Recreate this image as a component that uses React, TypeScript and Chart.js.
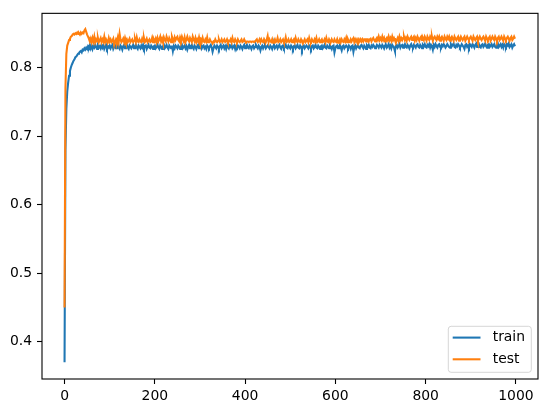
import { useEffect, useRef } from 'react';
import { Chart, registerables } from 'chart.js';

Chart.register(...registerables);

// Epochs are sampled every EPOCH_STEP (0, 2, 4, ... 998)
const EPOCH_STEP = 2;

const TRAIN: number[] = [
  0.370, 0.680, 0.740, 0.765, 0.778, 0.788, 0.795, 0.800, 0.804, 0.807, 0.810, 0.812, 0.815, 0.816, 0.818, 0.820, 0.821, 0.823, 0.824, 0.822, 0.826, 0.825, 0.828, 0.826, 0.829,
  0.827, 0.831, 0.829, 0.833, 0.828, 0.832, 0.827, 0.831, 0.829, 0.833, 0.830, 0.827, 0.832, 0.829, 0.831, 0.828, 0.833, 0.829, 0.832, 0.827, 0.830, 0.833, 0.828, 0.831, 0.829,
  0.832, 0.828, 0.831, 0.833, 0.827, 0.830, 0.832, 0.828, 0.831, 0.833, 0.829, 0.827, 0.832, 0.830, 0.826, 0.831, 0.833, 0.828, 0.830, 0.833, 0.829, 0.827, 0.832, 0.830, 0.828,
  0.831, 0.833, 0.828, 0.830, 0.833, 0.829, 0.827, 0.832, 0.830, 0.828, 0.832, 0.829, 0.833, 0.828, 0.831, 0.832, 0.827, 0.830, 0.833, 0.829, 0.828, 0.832, 0.830, 0.827, 0.831,
  0.832, 0.828, 0.830, 0.833, 0.829, 0.827, 0.832, 0.830, 0.827, 0.831, 0.833, 0.828, 0.830, 0.833, 0.829, 0.827, 0.832, 0.830, 0.828, 0.832, 0.824, 0.831, 0.828, 0.832, 0.830,
  0.828, 0.832, 0.830, 0.827, 0.831, 0.833, 0.828, 0.830, 0.832, 0.828, 0.831, 0.826, 0.830, 0.833, 0.828, 0.831, 0.833, 0.829, 0.827, 0.832, 0.830, 0.827, 0.831, 0.833, 0.828,
  0.830, 0.833, 0.828, 0.831, 0.832, 0.828, 0.830, 0.827, 0.832, 0.830, 0.828, 0.831, 0.833, 0.829, 0.823, 0.828, 0.832, 0.830, 0.828, 0.832, 0.830, 0.827, 0.831, 0.833, 0.828,
  0.830, 0.832, 0.828, 0.831, 0.827, 0.832, 0.830, 0.828, 0.832, 0.830, 0.833, 0.828, 0.830, 0.832, 0.827, 0.831, 0.829, 0.832, 0.830, 0.828, 0.832, 0.830, 0.827, 0.831, 0.833,
  0.828, 0.830, 0.833, 0.829, 0.828, 0.832, 0.830, 0.827, 0.831, 0.832, 0.828, 0.830, 0.833, 0.830, 0.828, 0.832, 0.830, 0.825, 0.830, 0.832, 0.828, 0.831, 0.833, 0.828, 0.830,
  0.832, 0.830, 0.828, 0.832, 0.830, 0.827, 0.831, 0.833, 0.828, 0.830, 0.832, 0.828, 0.831, 0.833, 0.829, 0.827, 0.831, 0.832, 0.828, 0.830, 0.833, 0.829, 0.828, 0.832, 0.830,
  0.828, 0.832, 0.830, 0.827, 0.831, 0.832, 0.828, 0.830, 0.833, 0.829, 0.828, 0.832, 0.830, 0.826, 0.831, 0.832, 0.828, 0.830, 0.832, 0.830, 0.828, 0.832, 0.830, 0.827, 0.831,
  0.832, 0.828, 0.830, 0.833, 0.829, 0.828, 0.832, 0.830, 0.827, 0.831, 0.832, 0.828, 0.830, 0.833, 0.829, 0.828, 0.832, 0.830, 0.828, 0.832, 0.830, 0.827, 0.831, 0.832, 0.822,
  0.828, 0.831, 0.832, 0.828, 0.830, 0.833, 0.829, 0.825, 0.831, 0.832, 0.828, 0.830, 0.832, 0.830, 0.828, 0.832, 0.830, 0.827, 0.831, 0.832, 0.823, 0.830, 0.832, 0.828, 0.831,
  0.832, 0.829, 0.828, 0.832, 0.833, 0.830, 0.828, 0.832, 0.830, 0.827, 0.832, 0.830, 0.833, 0.829, 0.828, 0.832, 0.830, 0.833, 0.831, 0.828, 0.830, 0.833, 0.831, 0.829, 0.833,
  0.831, 0.829, 0.833, 0.831, 0.828, 0.832, 0.833, 0.829, 0.831, 0.834, 0.829, 0.832, 0.828, 0.833, 0.831, 0.829, 0.824, 0.832, 0.833, 0.829, 0.831, 0.834, 0.829, 0.832, 0.833,
  0.829, 0.832, 0.834, 0.830, 0.829, 0.833, 0.831, 0.828, 0.832, 0.834, 0.830, 0.829, 0.833, 0.831, 0.829, 0.833, 0.834, 0.830, 0.829, 0.833, 0.831, 0.828, 0.833, 0.831, 0.834,
  0.830, 0.829, 0.833, 0.831, 0.834, 0.829, 0.833, 0.831, 0.826, 0.833, 0.830, 0.834, 0.831, 0.829, 0.833, 0.834, 0.830, 0.829, 0.833, 0.831, 0.834, 0.832, 0.829, 0.831, 0.834,
  0.832, 0.830, 0.829, 0.834, 0.831, 0.833, 0.835, 0.830, 0.829, 0.833, 0.831, 0.834, 0.832, 0.829, 0.831, 0.834, 0.832, 0.830, 0.827, 0.833, 0.834, 0.830, 0.832, 0.829, 0.834,
  0.832, 0.830, 0.834, 0.832, 0.829, 0.833, 0.835, 0.830, 0.832, 0.834, 0.830, 0.829, 0.833, 0.834, 0.830, 0.832, 0.835, 0.831, 0.829, 0.833, 0.834, 0.830, 0.832, 0.834, 0.830,
  0.832, 0.834, 0.830, 0.829, 0.833, 0.835, 0.830, 0.832, 0.834, 0.830, 0.833, 0.829, 0.834, 0.832, 0.830, 0.834, 0.832, 0.835, 0.830, 0.832, 0.834, 0.829, 0.832, 0.834, 0.831,
];

const TEST: number[] = [
  0.450, 0.770, 0.820, 0.832, 0.836, 0.840, 0.842, 0.845, 0.846, 0.848, 0.849, 0.848, 0.850, 0.849, 0.851, 0.849, 0.850, 0.848, 0.851, 0.849, 0.851, 0.850, 0.854, 0.856, 0.852,
  0.848, 0.845, 0.842, 0.838, 0.842, 0.837, 0.843, 0.838, 0.845, 0.837, 0.841, 0.838, 0.843, 0.837, 0.840, 0.843, 0.837, 0.841, 0.838, 0.845, 0.837, 0.841, 0.838, 0.837, 0.843,
  0.838, 0.841, 0.837, 0.839, 0.842, 0.833, 0.837, 0.841, 0.838, 0.844, 0.837, 0.849, 0.841, 0.837, 0.839, 0.842, 0.837, 0.843, 0.838, 0.841, 0.837, 0.839, 0.842, 0.837, 0.839,
  0.841, 0.837, 0.839, 0.842, 0.837, 0.844, 0.838, 0.837, 0.841, 0.838, 0.837, 0.842, 0.838, 0.843, 0.837, 0.839, 0.842, 0.837, 0.839, 0.841, 0.837, 0.838, 0.843, 0.837, 0.841,
  0.838, 0.842, 0.837, 0.843, 0.838, 0.841, 0.845, 0.838, 0.842, 0.837, 0.844, 0.840, 0.838, 0.845, 0.841, 0.838, 0.843, 0.840, 0.837, 0.845, 0.841, 0.838, 0.844, 0.840, 0.843,
  0.845, 0.840, 0.838, 0.844, 0.840, 0.845, 0.841, 0.838, 0.844, 0.837, 0.841, 0.845, 0.840, 0.838, 0.843, 0.840, 0.837, 0.845, 0.841, 0.838, 0.843, 0.837, 0.841, 0.838, 0.844,
  0.838, 0.841, 0.837, 0.843, 0.838, 0.837, 0.841, 0.838, 0.844, 0.837, 0.838, 0.841, 0.838, 0.837, 0.835, 0.838, 0.837, 0.841, 0.838, 0.837, 0.839, 0.841, 0.837, 0.838, 0.841,
  0.837, 0.839, 0.841, 0.837, 0.838, 0.841, 0.837, 0.839, 0.838, 0.841, 0.837, 0.843, 0.838, 0.837, 0.841, 0.838, 0.837, 0.841, 0.838, 0.837, 0.839, 0.841, 0.837, 0.838, 0.841,
  0.838, 0.837, 0.838, 0.838, 0.837, 0.838, 0.838, 0.837, 0.838, 0.838, 0.837, 0.838, 0.838, 0.841, 0.837, 0.838, 0.841, 0.837, 0.841, 0.838, 0.837, 0.841, 0.838, 0.837, 0.841,
  0.846, 0.837, 0.841, 0.838, 0.837, 0.841, 0.836, 0.838, 0.841, 0.837, 0.838, 0.843, 0.837, 0.838, 0.841, 0.837, 0.839, 0.841, 0.837, 0.838, 0.844, 0.837, 0.838, 0.841, 0.837,
  0.838, 0.841, 0.837, 0.839, 0.841, 0.837, 0.843, 0.838, 0.837, 0.841, 0.838, 0.837, 0.841, 0.838, 0.835, 0.838, 0.841, 0.837, 0.839, 0.841, 0.837, 0.843, 0.838, 0.837, 0.841,
  0.838, 0.837, 0.841, 0.838, 0.843, 0.837, 0.838, 0.841, 0.837, 0.839, 0.841, 0.837, 0.838, 0.841, 0.837, 0.843, 0.838, 0.837, 0.841, 0.838, 0.837, 0.841, 0.838, 0.837, 0.841,
  0.838, 0.837, 0.841, 0.836, 0.838, 0.841, 0.837, 0.841, 0.838, 0.837, 0.841, 0.838, 0.843, 0.837, 0.841, 0.838, 0.837, 0.841, 0.838, 0.841, 0.843, 0.837, 0.841, 0.838, 0.841,
  0.838, 0.841, 0.838, 0.841, 0.838, 0.841, 0.838, 0.841, 0.841, 0.838, 0.841, 0.841, 0.838, 0.841, 0.842, 0.838, 0.841, 0.843, 0.840, 0.838, 0.841, 0.843, 0.840, 0.845, 0.840,
  0.843, 0.840, 0.845, 0.840, 0.843, 0.838, 0.841, 0.843, 0.840, 0.845, 0.840, 0.843, 0.839, 0.845, 0.840, 0.843, 0.840, 0.836, 0.840, 0.843, 0.839, 0.845, 0.840, 0.843, 0.840,
  0.843, 0.845, 0.840, 0.843, 0.839, 0.845, 0.842, 0.840, 0.843, 0.845, 0.840, 0.843, 0.845, 0.839, 0.843, 0.840, 0.845, 0.842, 0.839, 0.843, 0.845, 0.840, 0.843, 0.840, 0.845,
  0.842, 0.839, 0.845, 0.842, 0.840, 0.845, 0.842, 0.845, 0.839, 0.843, 0.845, 0.842, 0.840, 0.845, 0.842, 0.845, 0.839, 0.843, 0.845, 0.842, 0.839, 0.845, 0.842, 0.840, 0.845,
  0.842, 0.845, 0.839, 0.843, 0.845, 0.842, 0.839, 0.845, 0.842, 0.840, 0.843, 0.845, 0.839, 0.842, 0.845, 0.842, 0.840, 0.843, 0.845, 0.839, 0.842, 0.845, 0.842, 0.840, 0.843,
  0.845, 0.842, 0.839, 0.845, 0.842, 0.840, 0.843, 0.845, 0.839, 0.842, 0.845, 0.842, 0.840, 0.843, 0.845, 0.842, 0.839, 0.845, 0.842, 0.840, 0.843, 0.845, 0.839, 0.842, 0.845,
  0.842, 0.840, 0.845, 0.842, 0.839, 0.843, 0.845, 0.840, 0.842, 0.845, 0.842, 0.839, 0.845, 0.842, 0.840, 0.843, 0.845, 0.842, 0.839, 0.843, 0.845, 0.840, 0.842, 0.845, 0.842,
];

const SERIES_LABELS = ['train', 'test'];
const SERIES_COLORS = ['#1f77b4', '#ff7f0e'];
const X_TICKS = [0, 200, 400, 600, 800, 1000];
const Y_TICKS = [0.4, 0.5, 0.6, 0.7, 0.8];

const FONT = { family: 'DejaVu Sans', size: 13.9 };

const framePlugin = {
  id: 'frameAndLegend',
  afterDraw(chart: any) {
    const { ctx, chartArea: a } = chart;
    ctx.save();
    ctx.strokeStyle = '#000';
    ctx.lineWidth = 1.1;
    ctx.strokeRect(a.left, a.top, a.right - a.left, a.bottom - a.top);

    // legend (lower right, inside axes)
    const boxW = 83;
    const boxH = 46;
    const bx = a.right - 6.7 - boxW;
    const by = a.bottom - 6.7 - boxH;
    const r = 2.8;
    ctx.beginPath();
    ctx.moveTo(bx + r, by);
    ctx.lineTo(bx + boxW - r, by);
    ctx.arcTo(bx + boxW, by, bx + boxW, by + r, r);
    ctx.lineTo(bx + boxW, by + boxH - r);
    ctx.arcTo(bx + boxW, by + boxH, bx + boxW - r, by + boxH, r);
    ctx.lineTo(bx + r, by + boxH);
    ctx.arcTo(bx, by + boxH, bx, by + boxH - r, r);
    ctx.lineTo(bx, by + r);
    ctx.arcTo(bx, by, bx + r, by, r);
    ctx.closePath();
    ctx.fillStyle = 'rgba(255,255,255,0.8)';
    ctx.fill();
    ctx.strokeStyle = 'rgba(204,204,204,0.8)';
    ctx.lineWidth = 1;
    ctx.stroke();

    ctx.font = `${FONT.size}px "${FONT.family}"`;
    ctx.textBaseline = 'middle';
    ctx.textAlign = 'left';
    SERIES_LABELS.forEach((lab, i) => {
      const cy = by + 11.3 + i * 21.7;
      ctx.strokeStyle = SERIES_COLORS[i];
      ctx.lineWidth = 2.08;
      ctx.beginPath();
      ctx.moveTo(bx + 4.4, cy);
      ctx.lineTo(bx + 32.2, cy);
      ctx.stroke();
      ctx.fillStyle = '#000';
      ctx.fillText(lab, bx + 44.4, cy);
    });
    ctx.restore();
  },
};

export default function App() {
  const ref = useRef<HTMLCanvasElement | null>(null);

  useEffect(() => {
    document.body.style.margin = '0';
    const canvas = ref.current;
    if (!canvas) return;
    const toPoints = (arr: number[]) => arr.map((v, i) => ({ x: i * EPOCH_STEP, y: v }));
    const chart = new Chart(canvas, {
      type: 'line',
      data: {
        datasets: [
          {
            label: SERIES_LABELS[0],
            data: toPoints(TRAIN),
            borderColor: SERIES_COLORS[0],
            backgroundColor: SERIES_COLORS[0],
            borderWidth: 2.08,
            pointRadius: 0,
            tension: 0,
            fill: false,
            order: 1,
          },
          {
            label: SERIES_LABELS[1],
            data: toPoints(TEST),
            borderColor: SERIES_COLORS[1],
            backgroundColor: SERIES_COLORS[1],
            borderWidth: 2.08,
            pointRadius: 0,
            tension: 0,
            fill: false,
            order: 0,
          },
        ],
      },
      options: {
        responsive: false,
        animation: false,
        devicePixelRatio: 1,
        layout: { padding: { top: 10, right: 9, left: 0, bottom: 0 } },
        plugins: { legend: { display: false }, tooltip: { enabled: false } },
        scales: {
          x: {
            type: 'linear',
            min: -49.95,
            max: 1048.95,
            afterBuildTicks: (s: any) => {
              s.ticks = X_TICKS.map((v) => ({ value: v }));
            },
            afterFit: (s: any) => {
              s.height = 34;
            },
            grid: { display: true, drawOnChartArea: false, drawTicks: true, tickLength: 5, tickColor: '#000', tickWidth: 1.1 },
            border: { display: false },
            ticks: { color: '#000', font: FONT, padding: 4, maxRotation: 0, autoSkip: false, callback: (v: any) => String(v) },
          },
          y: {
            type: 'linear',
            min: 0.3457,
            max: 0.879,
            afterBuildTicks: (s: any) => {
              s.ticks = Y_TICKS.map((v) => ({ value: v }));
            },
            afterFit: (s: any) => {
              s.width = 42;
            },
            grid: { display: true, drawOnChartArea: false, drawTicks: true, tickLength: 5, tickColor: '#000', tickWidth: 1.1 },
            border: { display: false },
            ticks: { color: '#000', font: FONT, padding: 5, autoSkip: false, callback: (v: any) => Number(v).toFixed(1) },
          },
        },
      },
      plugins: [framePlugin],
    });
    return () => chart.destroy();
  }, []);

  return <canvas ref={ref} width={547} height={413} style={{ display: 'block' }} />;
}
